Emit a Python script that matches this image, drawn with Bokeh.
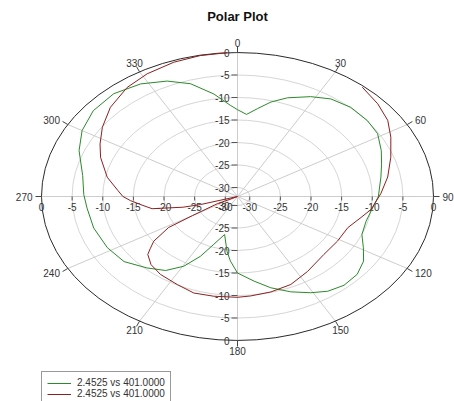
import numpy as np
from bokeh.plotting import figure
from bokeh.models import Range1d, Legend, LegendItem, ColumnDataSource
from bokeh.embed import file_html
from bokeh.resources import INLINE
from bokeh.core.properties import value

# ---------------- data ----------------
title_text = "Polar Plot"
series_label = "2.4525 vs 401.0000"

angle_ticks = [0, 30, 60, 90, 120, 150, 180, 210, 240, 270, 300, 330]
angle_labels = ["0", "30", "60", "90", "120", "150", "180", "210", "240", "270", "300", "330"]
radial_ticks = [0, -5, -10, -15, -20, -25, -30]
radial_labels = ["0", "-5", "-10", "-15", "-20", "-25", "-30"]
ring_values = [-30, -25, -20, -15, -10, -5]

green_theta = [0, 4.6, 9.5, 14.6, 20.4, 28.3, 35.1, 43, 51.5, 58.6, 66.5, 73, 79.6, 90,
               94.6, 104.7, 112.6, 119, 124.9, 131.5, 138.6, 145, 150.8, 157.7, 165, 171.8,
               180, 184.6, 188, 194, 200, 204.5, 209.5, 215.5, 223, 232, 241.8, 253.4, 264,
               271, 280.4, 291.5, 300, 309, 318.5, 327.7, 335.9, 343, 350.4, 356.7, 360]
green_db = [-12.7, -13.7, -12.2, -10.3, -8.6, -6.8, -5.5, -4.9, -4.9, -5.2, -6.4, -7.4, -8.2, -9.0,
            -9.6, -10.3, -10.0, -8.5, -6.9, -5.9, -5.7, -6.3, -7.5, -9.1, -11.0, -13.0,
            -15.0, -17.6, -19.7, -23.3, -20.7, -17.4, -14.2, -11.8, -10.3, -8.5, -7.9, -7.5, -7.3,
            -6.9, -6.3, -4.2, -2.7, -1.7, -1.5, -2.4, -3.9, -5.8, -8.9, -11.7, -12.7]

red_theta = [40, 48, 55.4, 62.2, 70.8, 80, 88.5, 97.5, 103, 111, 121.3, 132.4, 145.5, 156,
             165.6, 174.4, 180, 189.9, 198.4, 206.7, 216, 223, 228.7, 231, 234, 238.5, 240,
             244, 247, 250, 253.5, 255, 259, 263, 267, 270, 274, 281.4, 291.3, 297.5, 304.9,
             313.7, 323.4, 331.6, 340.8, 349, 357]
red_db = [-0.3, -1.2, -2.2, -3.7, -5.5, -7.1, -8.6, -10.0, -11.3, -12.7, -12.9, -12.9, -11.8, -10.6,
          -10.1, -9.8, -9.6, -9.5, -9.4, -10.1, -10.6, -11.3, -12.5, -13.7, -15.1, -18.8, -23.5,
          -28.3, -34.0, -34.0, -25.7, -22.8, -17.8, -16.3, -14.5, -13.3, -12.4, -10.3, -8.0, -6.7, -5.1,
          -3.3, -1.8, -1.0, -0.4, -0.1, 0.0]

# ---------------- geometry / style ----------------
R_MIN, R_MAX = -32.0, 0.0
AX, AY = 196.0, 144.0          # half axes of the (stretched) polar frame, screen px
FONT = "Liberation Sans"
GREEN = "#2a8a2a"
RED = "#8e1f1f"


def rnorm(db):
    return np.clip((np.asarray(db, dtype=float) - R_MIN) / (R_MAX - R_MIN), 0, None)


def to_xy(theta_deg, db):
    rn = rnorm(db)
    t = np.radians(np.asarray(theta_deg, dtype=float))
    return AX * rn * np.sin(t), AY * rn * np.cos(t)


p = figure(width=454, height=401, x_range=Range1d(-237, 217), y_range=Range1d(-205, 196),
           output_backend="svg", toolbar_location=None, min_border=0,
           x_axis_location=None, y_axis_location=None)
p.grid.visible = False
p.outline_line_color = None
p.background_fill_color = "white"

# rings
rr = rnorm(ring_values)
p.ellipse(x=0, y=0, width=2 * AX * rr, height=2 * AY * rr, fill_color=None,
          line_color="#d6d6d6", line_width=1)

# spokes
t = np.radians(angle_ticks)
p.segment(x0=0, y0=0, x1=AX * np.sin(t), y1=AY * np.cos(t), line_color="#cdcdcd", line_width=1)

# outer frame
p.ellipse(x=0, y=0, width=2 * AX, height=2 * AY, fill_color=None, line_color="#2a2a2a", line_width=1)

# angle ticks + labels
sx, cy = np.sin(t), np.cos(t)
rim_x, rim_y = AX * sx, AY * cy
p.segment(x0=rim_x, y0=rim_y, x1=rim_x + 6 * sx, y1=rim_y + 6 * cy, line_color="#444444")
aligns = ["left" if s > 0.8 else ("right" if s < -0.8 else "center") for s in sx]
offs = np.array([9.0 if a != "center" else 10.0 for a in aligns])
lab_src = ColumnDataSource(dict(x=rim_x + offs * sx, y=rim_y + offs * cy, text=angle_labels, align=aligns))
p.text(x="x", y="y", text="text", text_align="align", text_baseline="middle", source=lab_src,
       text_font=value(FONT), text_font_size="10px", text_color="#333333")

# radial ticks + labels on the vertical axis (top and bottom)
rt = rnorm(radial_ticks)
for sign in (1, -1):
    ys = sign * AY * rt
    p.segment(x0=-6, y0=ys, x1=0, y1=ys, line_color="#555555")
    p.text(x=-8, y=ys, text=radial_labels, text_align="right", text_baseline="middle",
           text_font=value(FONT), text_font_size="10px", text_color="#333333")
# radial ticks + labels on the horizontal axis (left and right)
for sign in (1, -1):
    xs = sign * AX * rt
    p.segment(x0=xs, y0=0, x1=xs, y1=-4, line_color="#555555")
    p.text(x=xs, y=-10, text=radial_labels, text_align="center", text_baseline="middle",
           text_font=value(FONT), text_font_size="10px", text_color="#333333")

# data curves
gx, gy = to_xy(green_theta, green_db)
rx, ry = to_xy(red_theta, red_db)
g_r = p.line(gx, gy, line_color=GREEN, line_width=1)
r_r = p.line(rx, ry, line_color=RED, line_width=1)

# title
p.text(x=[0], y=[180], text=[title_text], text_align="center", text_baseline="middle",
       text_font=value(FONT), text_font_size="13px", text_font_style="bold", text_color="#111111")

legend = Legend(items=[LegendItem(label=series_label, renderers=[g_r]),
                       LegendItem(label=series_label, renderers=[r_r])],
                location=(41, -4), padding=5, spacing=0, margin=0,
                glyph_width=24, glyph_height=10, label_height=10, label_standoff=6,
                label_text_font=FONT, label_text_font_size="10px", label_text_color="#333333",
                border_line_color="#333333", border_line_width=1, background_fill_alpha=1)
p.add_layout(legend)

open("out.html", "w").write(file_html(p, INLINE))
